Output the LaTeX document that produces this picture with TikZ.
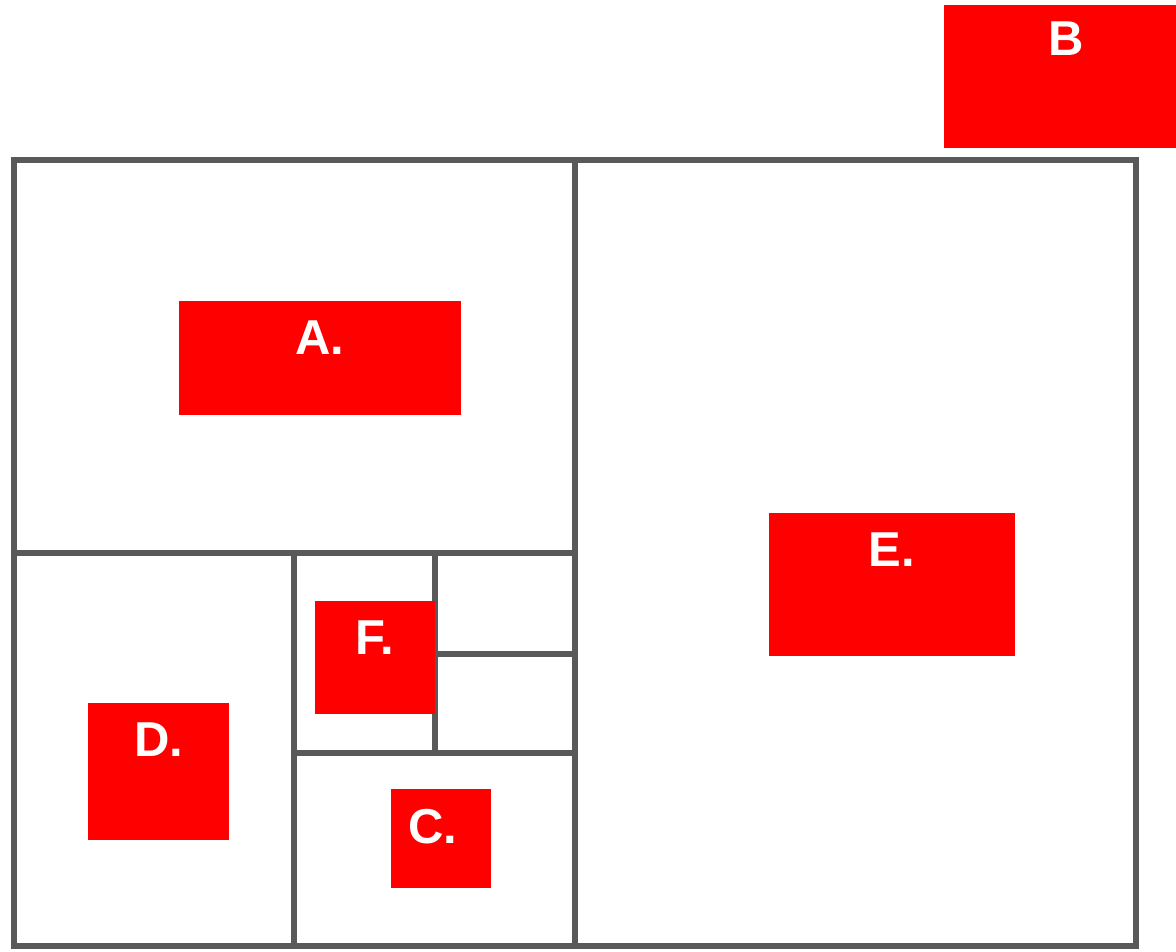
\documentclass[tikz,border=0pt]{standalone}
\usepackage{fontspec}
\setmainfont{Liberation Sans}
\begin{document}
\begin{tikzpicture}
  [x=1pt,y=-1pt,
   wall/.style={draw=black!65,line width=6pt},
   redbox/.style={fill=red,inner sep=0pt},
   tag/.style={anchor=north,text=white,inner sep=0pt,yshift=-20pt,
     font=\fontsize{49}{49}\selectfont\bfseries}]
  \useasboundingbox (0,0) rectangle (1176,951);
  \draw[wall] (14,160) rectangle (1136,946);
  \foreach \xa/\ya/\xb/\yb in {575/160/575/946, 14/553/575/553,
  294/553/294/946, 294/753/575/753, 435/553/435/753, 435/654/575/654}
    \draw[wall] (\xa,\ya) -- (\xb,\yb);
  \node[redbox,minimum width=282pt,minimum height=114pt] (A) at (320,358) {};
  \node[redbox,minimum width=232pt,minimum height=143pt] (B) at (1060,76.5) {};
  \node[redbox,minimum width=100pt,minimum height=99pt] (C) at (441,838.5) {};
  \node[redbox,minimum width=141pt,minimum height=137pt] (D) at (158.5,771.5) {};
  \node[redbox,minimum width=246pt,minimum height=143pt] (E) at (892,584.5) {};
  \node[redbox,minimum width=120pt,minimum height=113pt] (F) at (375,657.5) {};
  \node[tag] (A-t) at (A.north) {A.};
  \node[tag,xshift=6pt,yshift=3pt] (B-t) at (B.north) {B};
  \node[tag,xshift=-8pt] (C-t) at (C.north) {C.};
  \node[tag] (D-t) at (D.north) {D.};
  \node[tag] (E-t) at (E.north) {E.};
  \node[tag] (F-t) at (F.north) {F.};
\end{tikzpicture}
\end{document}
